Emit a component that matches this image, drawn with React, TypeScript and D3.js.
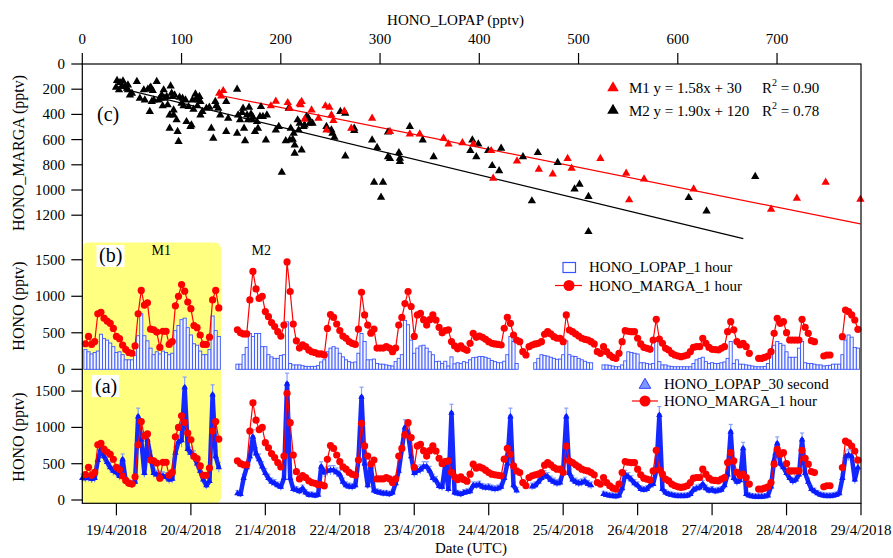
import React from 'react';
import * as d3 from 'd3';

// hourly series, index 0 = 18/4/2018 13:00 (UTC), last = 28/4/2018 23:00
const START = new Date(2018, 3, 18, 13);
const END = new Date(2018, 3, 29, 0);

const margaHourly: (number | null)[] = [
  null,
  350, 450, 340, 380, 760, 780, 700, 660, 630, 560, 450, 420,
  330, 270, 230, 220, 320, 760, 1080, 880, 910, 550, 540, 510,
  300, 520, 520, 340, 380, 870, 1000, 1160, 1070, 920, 830, 600,
  570, 470, 340, 340, 440, 950, 1080, 840,
  null, null, null, null, null,
  540, 500, 485, 485, 950, 1340, 1100, 970, 1000, 790, 720, 640,
  585, 515, 455, 605, 1470, 1065, 620, 390, 290, 335, 310, 265,
  240, 230, 210, 210, 195, 560, 750, 710, 620, 530, 455, 425,
  380, 355, 340, 550, 1055, 745, 605, 495, 550, 290, 290, 290,
  310, 290, 240, 290, 605, 710, 900, 1065, 860, 450, 745, 765,
  680, 605, 680, 745, 675, 575, 500, 530, 540, 380, 320, 280,
  320, 280, 260, 356, 493, 438, 456, 438, 411, 378, 356, 347,
  340, 333, 562, 712, 630, 470, 401, 378, 241, 196, 310, 333,
  347, 356, 378, 480, 515, 484, 447, 425, 425, 378, 744, 538,
  515, 484, 456, 425, 410, 401, 378, 347, 241, 219, 310, 241,
  196, 164, 150, 219, 378, 529, 520, 515, 515, 425, 347, 301,
  287, 274, 401, 685, 415, 356, 287, 264, 219, 196, 182, 173,
  182, 196, 241, 301, 310, 310, 425, 356, 300, 274, 270, 264,
  287, 310, 515, 652, 540, 380, 333, 356, 310, 219, null, null,
  150, 150, 164, 182, 241, 493, 698, 630, 652, 502, 401, 401,
  401, 401, 685, 575, 493, 392, 378, null, null, 182, 196, 196,
  null, null, null, 447, 812, 789, 744, 675, 548,
];

const lopapHourly: (number | null)[] = [
  null,
  270, 240, 210, 230, 250, 480, 420, 400, 360, 310, 230, 240,
  200, 130, 130, 130, 190, 460, 760, 460, 390, 290, 200, 240,
  210, 250, 230, 200, 220, 530, 600, 680, 700, 570, 470, 350,
  330, 250, 200, 200, 270, 730, 530, 450,
  null, null, null, null, null,
  70, 70, 200, 300, 490, 450, 490, 490, 310, 310, 200, 170,
  150, 150, 190, 200, 650, 80, 60, 60, 60, 50, 40, 40,
  40, 40, 50, 100, 130, 240, 290, 310, 290, 220, 170, 130,
  105, 90, 100, 220, 490, 380, 130, 130, 140, 80, 70, 70,
  60, 50, 45, 105, 150, 200, 670, 610, 400, 220, 290, 320,
  330, 290, 240, 200, 105, 110, 80, 110, 45, 170, 75, 90,
  80, 105, 90, 130, 160, 165, 175, 175, 165, 150, 120, 105,
  90, 90, 110, 200, 450, 380, 80, null, null, null, null, null,
  90, 150, 200, 190, 180, 165, 150, 137, 140, 200, 390, 200,
  180, 175, 150, 130, 110, 90, 90, null, null, null, 60, 60,
  55, 45, 35, 35, 60, 115, 240, 230, 220, 210, 90, 90,
  80, 70, 80, 380, 105, 60, 60, 45, 40, 35, 35, 35,
  35, 35, 35, 80, 130, 150, 165, 105, 80, 90, 80, 80,
  90, 100, 150, 380, 80, 130, 70, 70, 60, 55, 45, 35,
  35, 35, 40, 80, 220, 330, 380, 355, 330, 240, 165, 165,
  165, 290, 380, 90, 80, 80, 70, 60, 60, 45, 50, 55,
  70, 70, 70, 200, 400, 470, 440, 300, 290,
];

// 30 s LOPAP record (band level / spike tops)
const lopap30s: (number | null)[] = [
  300, 300, 310, 290, 300, 550, 700, 600, 520, 450, 400, 380,
  330, 560, 260, 230, 220, 250, 1150, 830, 370, 830, 600, 370,
  350, 340, 330, 320, 280, 290, 650, 800, 820, 1550, 700, 650,
  600, 500, 400, 280, 200, 260, 1450, 600, 450,
  null, null, null, null, null,
  90, 80, 300, 450, 600, 870, 640, 560, 460, 370, 300, 250,
  230, 200, 180, 300, 1600, 300, 150, 140, 120, 160, 100, 70,
  70, 60, 70, 460, 380, 400, 410, 410, 380, 350, 250, 200,
  185, 180, 200, 550, 1420, 500, 200, 460, 130, 110, 100, 90,
  90, 80, 100, 230, 400, 700, 1000, 920, 600, 370, 400, 420,
  460, 460, 400, 300, 270, 190, 180, 500, 150, 1200, 100, 90,
  80, 100, 110, 120, 200, 200, 210, 180, 170, 175, 160, 150,
  160, 180, 300, 500, 1150, 200, 130, null, null, null, null, 185,
  200, 250, 300, 345, 320, 275, 250, 230, 240, 400, 1150, 370,
  280, 250, 230, 240, 260, 220, 200, null, null, null, 80, 70,
  60, 55, 50, 60, 160, 350, 320, 280, 230, 200, 150, 140,
  150, 200, 220, 400, 1170, 150, 100, 80, 70, 60, 55, 55,
  55, 60, 80, 140, 160, 170, 220, 160, 130, 140, 120, 130,
  140, 200, 350, 940, 300, 250, 270, 710, 80, 60, 50, 45,
  45, 45, 50, 60, 185, 550, 780, 500, 450, 370, 300, 260,
  280, 350, 830, 370, 250, 150, 120, 90, 70, 60, 55, 55,
  60, 70, 90, 300, 600, 620, 600, 280, 450,
];

// scatter (c): [LOPAP, MARGA] pptv
const m1Points: [number, number][] = [
  [138, 233], [142, 212], [140, 254], [190, 333], [195, 296], [207, 307], [209, 352],
  [219, 317], [221, 299], [220, 325], [231, 365], [224, 439], [238, 431], [245, 333],
  [249, 344], [251, 405], [253, 450], [246, 524], [264, 376], [271, 510], [292, 431],
  [310, 537], [330, 556], [340, 556], [364, 590], [369, 635], [383, 625], [394, 635],
  [412, 688], [414, 907], [438, 770], [460, 836], [474, 873], [489, 751], [493, 828],
  [522, 751], [548, 868], [551, 1079], [566, 913], [616, 992], [694, 1153], [720, 1066],
  [749, 939], [784, 1074],
];

const m2Points: [number, number][] = [
  [35, 132], [38, 148], [41, 135], [34, 185], [37, 206], [40, 175], [43, 180], [45, 193],
  [46, 206], [48, 246], [50, 233], [46, 167], [55, 140], [58, 272], [62, 206], [63, 286],
  [66, 201], [68, 193], [69, 185], [68, 378], [71, 212], [70, 299], [72, 286], [75, 140],
  [77, 286], [78, 272], [80, 246], [81, 333], [82, 206], [83, 272], [85, 259], [86, 325],
  [88, 405], [88, 511], [89, 175], [90, 233], [91, 259], [92, 365], [92, 405], [93, 246],
  [95, 444], [96, 537], [97, 616], [98, 265], [100, 312], [101, 272], [102, 333], [104, 286],
  [105, 458], [107, 339], [109, 497], [110, 484], [111, 286], [112, 360], [114, 238], [115, 272],
  [116, 333], [117, 286], [118, 259], [119, 299], [119, 405], [121, 378], [125, 352], [128, 344],
  [130, 511], [132, 590], [134, 299], [135, 333], [137, 352], [139, 405], [145, 299], [145, 537],
  [147, 431], [156, 550], [156, 201], [157, 405], [159, 444], [161, 386], [162, 352], [163, 511],
  [164, 609], [166, 405], [167, 444], [168, 344], [170, 397], [171, 444], [172, 423], [174, 537],
  [176, 458], [177, 511], [179, 418], [180, 339], [182, 418], [185, 603], [186, 405], [195, 524],
  [198, 497], [201, 860], [205, 609], [208, 352], [209, 603], [210, 511], [212, 598], [213, 550],
  [214, 643], [214, 709], [217, 444], [218, 524], [219, 471], [221, 683], [223, 497], [224, 484],
  [226, 418], [228, 431], [229, 471], [232, 471], [246, 497], [251, 524], [252, 550], [254, 582],
  [260, 378], [265, 392], [265, 730], [274, 511], [274, 529], [292, 603], [297, 664], [294, 939],
  [303, 939], [301, 1058], [308, 736], [308, 540], [310, 751], [319, 704], [320, 749], [320, 775],
  [330, 497], [343, 603], [354, 736], [393, 603], [391, 688], [397, 736], [399, 635], [409, 688],
  [413, 807], [420, 847], [422, 669], [444, 736], [453, 1087], [459, 704], [479, 783], [496, 992],
  [501, 955], [510, 1053], [510, 1331], [611, 1061], [629, 1167], [678, 894],
];

// fits from the legend: slope, intercept, LOPAP range of the drawn line
const fitM1 = { slope: 1.58, icpt: 30, from: 138, to: 784 };
const fitM2 = { slope: 1.9, icpt: 120, from: 45, to: 666 };

const lopapTicks = [0, 100, 200, 300, 400, 500, 600, 700];
const margaTicks = [0, 200, 400, 600, 800, 1000, 1200];
const honoTicks = [0, 500, 1000, 1500];

const FONT = "'Liberation Serif', 'Times New Roman', Times, 'DejaVu Serif', serif";
const RED = '#ff0000';
const BLUE = '#1428ff';

export default function App() {
  const left = 82.3, right = 861, top = 64, bottom = 503.3;

  const xL = d3.scaleLinear().domain([0, 785]).range([left, 861.4]);
  const yM = d3.scaleLinear().domain([0, 1400]).range([top, 240.4]);
  const yB = d3.scaleLinear().domain([0, 1750]).range([369.3, 241.5]);
  const yA = d3.scaleLinear().domain([0, 1780]).range([500, 370.8]);
  const xT = d3.scaleTime().domain([START, END]).range([left, right]);
  const hx = (i: number) => xT(d3.timeHour.offset(START, i));

  const dayTicks = d3.timeDay.range(new Date(2018, 3, 19), new Date(2018, 3, 29, 1));

  const tri = d3.symbol(d3.symbolTriangle, 30)() as string;
  const triSmall = d3.symbol(d3.symbolTriangle, 18)() as string;
  const triLegend = d3.symbol(d3.symbolTriangle, 58)() as string;

  const lineB = d3.line<number | null>()
    .defined(v => v != null)
    .x((_, i) => hx(i))
    .y(v => yB(v as number));
  const lineA = d3.line<number | null>()
    .defined(v => v != null)
    .x((_, i) => hx(i))
    .y(v => yA(v as number));

  const err = (v: number) => 35 + 0.07 * v;

  const fitLine = (f: typeof fitM1) =>
    `M${xL(f.from)},${yM(f.slope * f.from + f.icpt)}L${xL(f.to)},${yM(f.slope * f.to + f.icpt)}`;

  const fmt = (d: Date) => `${d.getDate()}/${d.getMonth() + 1}/${d.getFullYear()}`;

  return (
    <svg width={893} height={558}
      style={{ position: 'absolute', left: 0, top: 0, background: '#fff', fontFamily: FONT, fontSize: 15 }}>
      {/* M1 highlight */}
      <rect x={left} y={242.5} width={221 - left} height={bottom - 242.5} rx={6} fill="#ffff80" />

      {/* ---------- panel (c) ---------- */}
      <path d={fitLine(fitM2)} stroke="#000" strokeWidth={1.2} fill="none" />
      <path d={fitLine(fitM1)} stroke={RED} strokeWidth={1.2} fill="none" />
      {m2Points.map(([l, m], i) => (
        <path key={'k' + i} d={tri} transform={`translate(${xL(l)},${yM(m)})`} fill="#000" />
      ))}
      {m1Points.map(([l, m], i) => (
        <path key={'r' + i} d={tri} transform={`translate(${xL(l)},${yM(m)})`} fill={RED} />
      ))}
      <text x={97} y={121} style={{ fontSize: 20 }}>(c)</text>

      <g>
        <path d={triLegend} transform="translate(613,88)" fill={RED} />
        <text x={629} y={93}>M1 y = 1.58x + 30</text>
        <text x={762} y={93}>R<tspan dy={-7} style={{ fontSize: 10 }}>2</tspan><tspan dy={7}> = 0.90</tspan></text>
        <path d={triLegend} transform="translate(613,110.5)" fill="#000" />
        <text x={629} y={116}>M2 y = 1.90x + 120</text>
        <text x={762} y={116}>R<tspan dy={-7} style={{ fontSize: 10 }}>2</tspan><tspan dy={7}> = 0.78</tspan></text>
      </g>

      {/* ---------- panel (b) ---------- */}
      {lopapHourly.map((v, i) => v == null ? null : (
        <rect key={'b' + i} x={hx(i) - 1.55} y={yB(v)} width={3.1} height={yB(0) - yB(v)}
          fill="#f3f5ff" stroke="#3a55ff" strokeWidth={0.9} />
      ))}
      <path d={lineB(margaHourly) || ''} stroke={RED} strokeWidth={1.2} fill="none" />
      {margaHourly.map((v, i) => v == null ? null : (
        <circle key={'mb' + i} cx={hx(i)} cy={yB(v)} r={3.6} fill={RED} />
      ))}
      <rect x={96.5} y={245} width={28} height={22} fill="#fff" />
      <text x={99} y={262} style={{ fontSize: 20 }}>(b)</text>
      <text x={151.5} y={254.5} style={{ fontSize: 14 }}>M1</text>
      <text x={251.5} y={254.5} style={{ fontSize: 14 }}>M2</text>

      <rect x={563} y={262.5} width={12.5} height={10} fill="#fff" stroke="#3a55ff" strokeWidth={1.2} />
      <text x={589} y={272}>HONO_LOPAP_1 hour</text>
      <line x1={555} x2={582} y1={285.5} y2={285.5} stroke={RED} strokeWidth={1.2} />
      <circle cx={569} cy={285.5} r={5.5} fill={RED} />
      <text x={589} y={290.5}>HONO_MARGA_1 hour</text>

      {/* ---------- panel (a) ---------- */}
      {lopap30s.map((v, i) => v == null ? null : (
        <g key={'e' + i} stroke="#86a0ff" strokeWidth={1.2}>
          <line x1={hx(i)} x2={hx(i)} y1={yA(v + err(v))} y2={yA(Math.max(0, v - err(v)))} />
          <line x1={hx(i) - 2} x2={hx(i) + 2} y1={yA(v + err(v))} y2={yA(v + err(v))} />
        </g>
      ))}
      <path d={lineA(lopap30s) || ''} stroke={BLUE} strokeWidth={4.5} fill="none" strokeLinejoin="round" />
      {lopap30s.map((v, i) => v == null ? null : (
        <path key={'t' + i} d={triSmall} transform={`translate(${hx(i)},${yA(v)})`} fill="#0a1cff" />
      ))}
      <path d={lineA(margaHourly) || ''} stroke={RED} strokeWidth={1.2} fill="none" />
      {margaHourly.map((v, i) => v == null ? null : (
        <circle key={'ma' + i} cx={hx(i)} cy={yA(v)} r={3.6} fill={RED} />
      ))}
      <rect x={92} y={375} width={27} height={22} fill="#fff" />
      <text x={95} y={393} style={{ fontSize: 20 }}>(a)</text>

      <path d={triLegend} transform="translate(645,385)" fill="#7d96ff" stroke="#2a40ff" strokeWidth={1} />
      <text x={664} y={389}>HONO_LOPAP_30 second</text>
      <line x1={632} x2={658} y1={401} y2={401} stroke={RED} strokeWidth={1.2} />
      <circle cx={645} cy={401} r={5.5} fill={RED} />
      <text x={664} y={406}>HONO_MARGA_1 hour</text>

      {/* ---------- frame & axes ---------- */}
      <rect x={left} y={top} width={right - left} height={bottom - top} fill="none" stroke="#000" strokeWidth={1.2} />

      {lopapTicks.map(t => (
        <g key={'xt' + t}>
          <line x1={xL(t)} x2={xL(t)} y1={top} y2={top - 11} stroke="#000" strokeWidth={1.2} />
          <text x={xL(t)} y={44} textAnchor="middle">{t}</text>
        </g>
      ))}
      <text x={455.5} y={25} textAnchor="middle">HONO_LOPAP (pptv)</text>

      {margaTicks.map(t => (
        <g key={'ym' + t}>
          <line x1={left} x2={left - 11} y1={yM(t)} y2={yM(t)} stroke="#000" strokeWidth={1.2} />
          <text x={65} y={yM(t) + 5} textAnchor="end">{t}</text>
        </g>
      ))}
      {honoTicks.map(t => (
        <g key={'yb' + t}>
          <line x1={left} x2={left - 11} y1={yB(t)} y2={yB(t)} stroke="#000" strokeWidth={1.2} />
          <text x={65} y={yB(t) + 5} textAnchor="end">{t}</text>
        </g>
      ))}
      {honoTicks.map(t => (
        <g key={'ya' + t}>
          <line x1={left} x2={left - 11} y1={yA(t)} y2={yA(t)} stroke="#000" strokeWidth={1.2} />
          <text x={65} y={yA(t) + 5} textAnchor="end">{t}</text>
        </g>
      ))}
      <text transform="translate(23.5,153) rotate(-90)" textAnchor="middle" style={{ fontSize: 16 }}>HONO_MARGA (pptv)</text>
      <text transform="translate(23.5,306) rotate(-90)" textAnchor="middle" style={{ fontSize: 16 }}>HONO (pptv)</text>
      <text transform="translate(23.5,437) rotate(-90)" textAnchor="middle" style={{ fontSize: 16 }}>HONO (pptv)</text>

      {dayTicks.map(d => (
        <g key={'d' + d.getDate()}>
          <line x1={xT(d)} x2={xT(d)} y1={bottom} y2={bottom + 12} stroke="#000" strokeWidth={1.2} />
          <text x={xT(d)} y={535} textAnchor="middle">{fmt(d)}</text>
        </g>
      ))}
      <text x={471} y={553} textAnchor="middle">Date (UTC)</text>
    </svg>
  );
}
